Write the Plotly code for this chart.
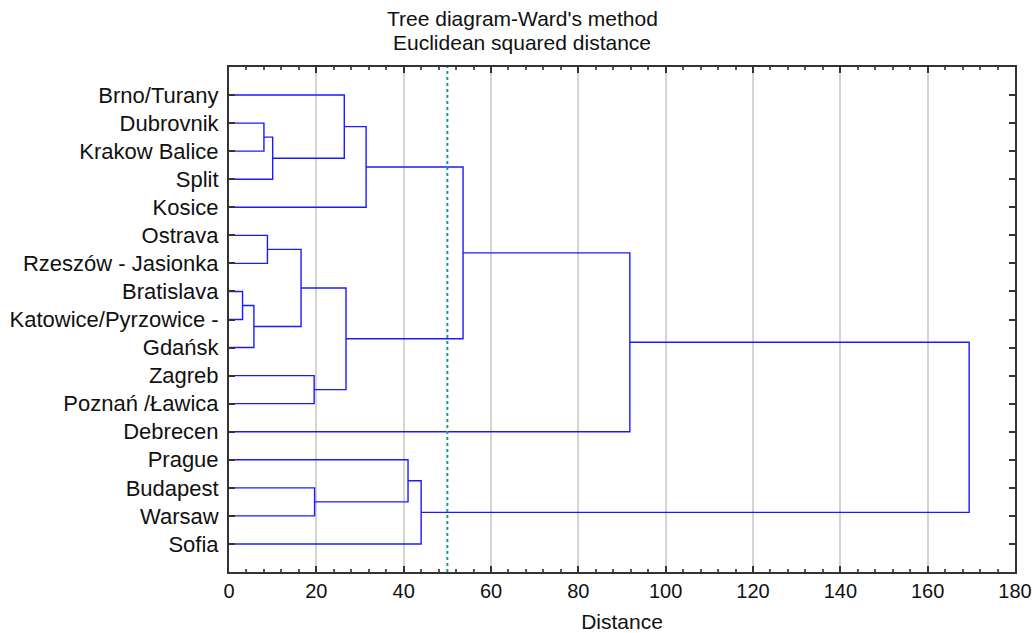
import plotly.graph_objects as go

# Leaves in display order (top to bottom)
leaves = ["Brno/Turany", "Dubrovnik", "Krakow Balice", "Split", "Kosice",
          "Ostrava", "Rzeszów - Jasionka", "Bratislava", "Katowice/Pyrzowice -",
          "Gdańsk", "Zagreb", "Poznań /Ławica", "Debrecen", "Prague",
          "Budapest", "Warsaw", "Sofia"]

# Merges: members are leaf names or "C<k>" (k = index of an earlier merge)
merge_left = ["Dubrovnik", "C0", "Brno/Turany", "C2", "Ostrava", "Bratislava", "C5",
              "C4", "Zagreb", "C7", "C3", "C10", "Budapest", "Prague", "C13", "C11"]
merge_right = ["Krakow Balice", "Split", "C1", "Kosice", "Rzeszów - Jasionka",
               "Katowice/Pyrzowice -", "Gdańsk", "C6", "Poznań /Ławica", "C8", "C9",
               "Debrecen", "Warsaw", "C12", "Sofia", "C14"]
merge_height = [8.0, 10.0, 26.4, 31.4, 8.8, 3.1, 5.7, 16.5, 19.5, 26.8, 53.6, 91.8,
                19.6, 41.0, 44.0, 169.5]

cut_distance = 50

title_lines = ["Tree diagram-Ward's method", "Euclidean squared distance"]

pos = {name: (i, 0.0) for i, name in enumerate(leaves)}  # (y, x)
xs, ys = [], []
for k, (a, b, h) in enumerate(zip(merge_left, merge_right, merge_height)):
    ya, xa = pos[a]
    yb, xb = pos[b]
    xs += [xa, h, h, xb, None]
    ys += [ya, ya, yb, yb, None]
    pos[f"C{k}"] = ((ya + yb) / 2, h)

font_family = "Arial, 'Liberation Sans', sans-serif"
W, H = 1035, 633
ML, MR, MT, MB = 229, 20, 67, 61
pw, ph = W - ML - MR, H - MT - MB

fig = go.Figure()
fig.add_trace(go.Scatter(x=xs, y=ys, mode="lines",
                         line=dict(color="#1a1aff", width=1.4),
                         hoverinfo="skip", showlegend=False))

fig.add_shape(type="line", x0=cut_distance, x1=cut_distance, y0=0, y1=1,
              xref="x", yref="paper",
              line=dict(color="#1a9a96", width=2, dash="dot"))

for text, ypx in zip(title_lines, [19, 43]):
    fig.add_annotation(text=text, xref="paper", yref="paper",
                       x=(522 - ML) / pw, y=1 + (MT - ypx) / ph,
                       showarrow=False, font=dict(size=21, color="#111111"),
                       xanchor="center", yanchor="middle")

fig.update_layout(
    width=W, height=H,
    margin=dict(l=ML, r=MR, t=MT, b=MB, autoexpand=False),
    paper_bgcolor="white", plot_bgcolor="white",
    font=dict(family=font_family, size=20, color="#111111"),
    showlegend=False,
)

fig.update_xaxes(range=[0, 180], dtick=20, tick0=0, showgrid=True,
                 gridcolor="#d4d4d4", gridwidth=1.5, zeroline=False,
                 showline=True, linecolor="#333333", linewidth=2, mirror="ticks",
                 ticks="inside", ticklen=6, tickcolor="#333333", tickwidth=2,
                 minor=dict(dtick=4, ticks="inside", ticklen=3, tickcolor="#555555",
                            showgrid=False),
                 title=dict(text="Distance", standoff=14, font=dict(size=21)),
                 tickfont=dict(size=20), automargin=False)
fig.update_yaxes(range=[len(leaves), -1], tickvals=list(range(len(leaves))),
                 ticktext=leaves, showgrid=False, zeroline=False,
                 showline=True, linecolor="#333333", linewidth=2, mirror="ticks",
                 ticks="inside", ticklen=6, tickcolor="#333333", tickwidth=1.5,
                 tickfont=dict(size=22), ticklabelstandoff=4, automargin=False)

fig.write_html("out.html", config={"displayModeBar": False},
               post_script="document.body.style.margin='0';document.body.style.overflow='hidden';")
